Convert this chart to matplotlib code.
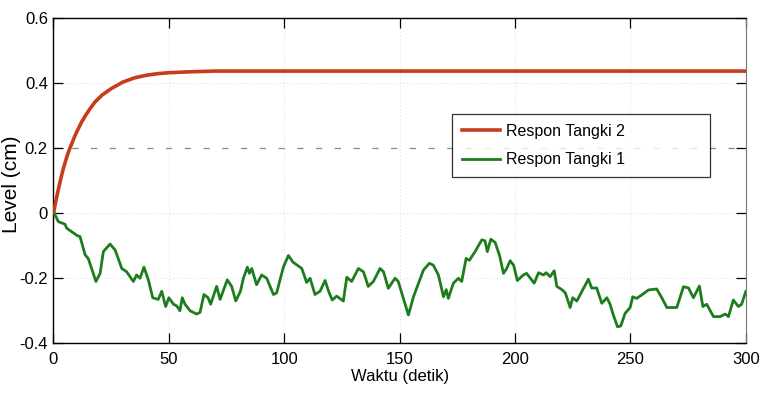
import matplotlib
matplotlib.use("Agg")
import matplotlib.pyplot as plt
import numpy as np

# ---- data ----
t_red = [0, 1, 2, 3, 4, 5, 6, 7, 8, 9, 10, 12, 14, 16, 18, 21, 25, 30, 35, 40, 45, 50, 60, 70, 300]
v_red = [0.0, 0.037, 0.07, 0.101, 0.13, 0.155, 0.178, 0.198, 0.215, 0.233, 0.249, 0.278, 0.302,
         0.323, 0.342, 0.363, 0.383, 0.403, 0.416, 0.424, 0.429, 0.432, 0.435, 0.437, 0.437]

t_green = [0, 0.3, 2.1, 5, 5.7, 7.9, 10.3, 11.5, 13.7, 15.1, 18.4, 20.2, 21.6, 24.5, 26.7, 29.6,
           31.7, 34.6, 36, 37.5, 39.2, 41.1, 43, 45.4, 46.9, 48.6, 50, 52, 53.4, 54.8, 55.8, 57,
           59.2, 62, 63.5, 65.2, 67, 68.1, 70.7, 72.2, 75.3, 77.2, 79, 81, 82.3, 84, 84.9, 85.9,
           88, 90.2, 92.4, 95.3, 96.7, 99.6, 101.8, 103.7, 107.6, 109.7, 111.2, 113.3, 115.5,
           117.7, 119.2, 120.8, 122.7, 125.6, 127.1, 129.2, 132.1, 134.3, 136.4, 138.6, 141.5,
           143, 145.1, 148, 149.4, 153.8, 156, 160.3, 162.9, 164.6, 166.8, 169, 170.2, 171.1,
           173.3, 175.5, 176.9, 178.8, 180.2, 182.7, 185.6, 187, 188, 189.5, 191.4, 193.3, 195,
           196.4, 197.9, 199.4, 201, 203.6, 205, 208.3, 210.2, 212.3, 213.5, 215.2, 217, 218.1,
           220.3, 221.8, 223.9, 225, 226.8, 229, 231.8, 233.2, 235.4, 237.6, 239.8, 241.2, 242.6,
           244.4, 245.8, 247.7, 249.9, 251, 252.7, 255.6, 257.8, 261.4, 263.6, 265.8, 270.1, 273,
           275.2, 277.3, 279.9, 281.4, 283.1, 286, 288.9, 291.1, 292.5, 294.6, 296.8, 298.2, 300]
v_green = [0.0, 0.0, -0.026, -0.034, -0.046, -0.057, -0.069, -0.072, -0.128, -0.14, -0.21, -0.185,
           -0.118, -0.095, -0.113, -0.17, -0.18, -0.21, -0.19, -0.2, -0.166, -0.205, -0.26, -0.265,
           -0.24, -0.287, -0.26, -0.28, -0.285, -0.30, -0.26, -0.28, -0.30, -0.31, -0.305, -0.25,
           -0.26, -0.28, -0.225, -0.265, -0.205, -0.225, -0.27, -0.24, -0.2, -0.166, -0.185, -0.17,
           -0.22, -0.19, -0.2, -0.25, -0.245, -0.166, -0.13, -0.15, -0.17, -0.213, -0.2, -0.25,
           -0.24, -0.207, -0.24, -0.267, -0.255, -0.27, -0.197, -0.21, -0.17, -0.18, -0.225, -0.21,
           -0.17, -0.18, -0.231, -0.2, -0.21, -0.313, -0.257, -0.175, -0.154, -0.16, -0.19, -0.257,
           -0.235, -0.262, -0.215, -0.2, -0.21, -0.139, -0.145, -0.118, -0.082, -0.085, -0.118,
           -0.08, -0.09, -0.13, -0.185, -0.17, -0.146, -0.16, -0.207, -0.19, -0.185, -0.215, -0.183,
           -0.19, -0.183, -0.195, -0.177, -0.225, -0.235, -0.245, -0.29, -0.26, -0.27, -0.24,
           -0.203, -0.23, -0.23, -0.277, -0.26, -0.28, -0.313, -0.349, -0.347, -0.308, -0.29,
           -0.257, -0.262, -0.248, -0.236, -0.233, -0.26, -0.29, -0.29, -0.226, -0.23, -0.26,
           -0.224, -0.287, -0.28, -0.318, -0.318, -0.31, -0.318, -0.267, -0.287, -0.28, -0.241]

x_ticks = [0, 50, 100, 150, 200, 250, 300]
y_ticks = [-0.4, -0.2, 0, 0.2, 0.4, 0.6]
y_tick_labels = ["-0.4", "-0.2", "0", "0.2", "0.4", "0.6"]
labels = ["Respon Tangki 2", "Respon Tangki 1"]

sans = ["Liberation Sans", "DejaVu Sans"]

fig = plt.figure(figsize=(7.61, 3.93), dpi=100)
ax = fig.add_axes([0.0703, 0.1265, 0.9097, 0.8275])

ax.plot(t_red, v_red, color="#c63c1c", lw=2.6, label=labels[0], zorder=3)
ax.plot(t_green, v_green, color="#1d7d1d", lw=2.0, label=labels[1], zorder=3)

# grid
for xv in x_ticks[1:-1]:
    ax.axvline(xv, color="#e2e2e2", lw=0.8, ls=(0, (1, 2)), zorder=1)
for yv in [-0.2, 0, 0.4]:
    ax.axhline(yv, color="#e2e2e2", lw=0.8, ls=(0, (1, 2)), zorder=1)
ax.axhline(0.2, color="#8a8a8a", lw=0.9, ls=(0, (5, 10)), zorder=1)

ax.set_xlim(0, 300)
ax.set_ylim(-0.4, 0.6)
ax.set_xticks(x_ticks)
ax.set_yticks(y_ticks)
ax.set_yticklabels(y_tick_labels)
ax.tick_params(direction="in", length=7, width=0.9, top=True, right=True, labelsize=12)
ax.tick_params(axis="x", pad=6)
ax.tick_params(axis="y", pad=4)
for lab in ax.get_xticklabels() + ax.get_yticklabels():
    lab.set_family(sans)

for s in ["left", "bottom", "top"]:
    ax.spines[s].set_color("black")
    ax.spines[s].set_linewidth(1.0)
ax.spines["right"].set_color("#777777")

ax.set_xlabel("Waktu (detik)", family=sans, fontsize=12, labelpad=2)
ax.set_ylabel("Level (cm)", family=sans, fontsize=15)
ax.yaxis.set_label_coords(-0.047, 0.49)

leg = ax.legend(loc="upper left", bbox_to_anchor=(452 / 761, 1 - 114 / 393, 258 / 761, 0.0),
                bbox_transform=fig.transFigure, mode="expand",
                prop={"family": sans, "size": 11.5}, frameon=True, fancybox=False,
                edgecolor="black", handlelength=2.4, handletextpad=0.35,
                borderpad=0.6, labelspacing=0.85, borderaxespad=0)
leg.get_frame().set_linewidth(0.9)

fig.savefig("out.png", dpi=100)
